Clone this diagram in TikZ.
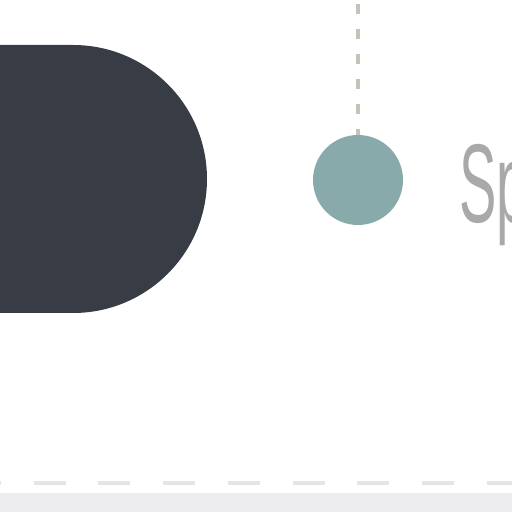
\documentclass[tikz,border=0pt]{standalone}
\usepackage{fontspec}
\setmainfont{Liberation Sans}
\usetikzlibrary{positioning}
\definecolor{slate}{HTML}{383D45}
\definecolor{teal}{HTML}{88AAAB}
\definecolor{stonegray}{HTML}{C4C3B8}
\definecolor{labelgray}{HTML}{A8A9AB}
\definecolor{rulegray}{HTML}{E5E5E5}
\definecolor{bandgray}{HTML}{EDEDEF}
\tikzset{
  marker/.style={circle, fill=teal, inner sep=0pt, minimum size=90pt},
  stemline/.style={draw=stonegray, line width=4.5pt, dash pattern=on 10.5pt off 14.5pt, dash phase=21pt},
  ruleline/.style={draw=rulegray, line width=3.5pt, dash pattern=on 32pt off 32.7pt, dash phase=31pt},
  steplabel/.style={inner sep=0pt, anchor=base west, text=labelgray, xscale=0.5, font=\fontsize{112}{112}\selectfont}
}
\begin{document}
\begin{tikzpicture}[x=1pt, y=1pt]
  \useasboundingbox (0,0) rectangle (512,512);
  \clip (0,0) rectangle (512,512);
  % bottom band and rule
  \fill[bandgray] (0,0) rectangle (512,19);
  \coordinate (ruleleft) at (0,29);
  \coordinate (ruleright) at (512,29);
  \draw[ruleline] (ruleleft) -- (ruleright);
  % dark tab
  \fill[slate] (-10,467) -- (73,467) arc[start angle=90, end angle=-90, radius=134] -- (-10,199) -- cycle;
  % marker with its stem
  \node[marker] (dot) at (358,332) {};
  \coordinate (stemtop) at (358,512);
  \draw[stemline] (stemtop) -- (dot.north);
  \node[steplabel] (title) at (459,289) {Sp};
\end{tikzpicture}
\end{document}
